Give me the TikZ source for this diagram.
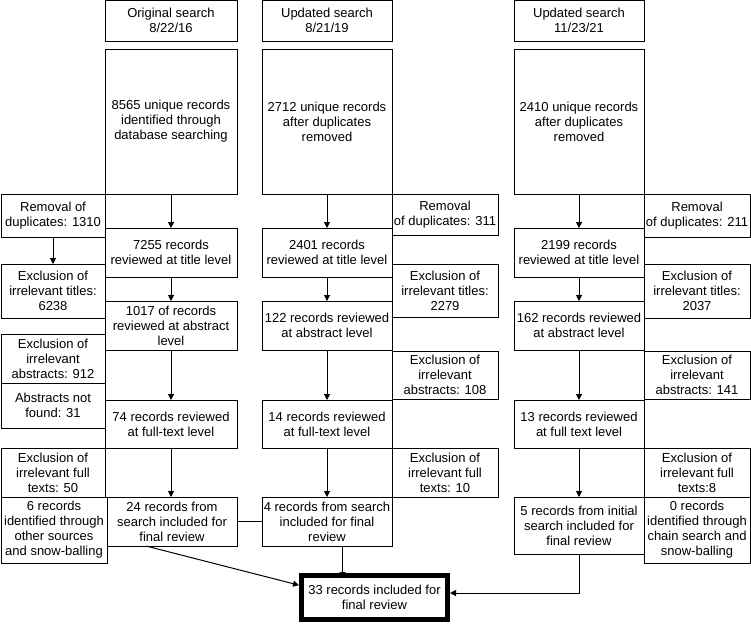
\documentclass[tikz,border=0pt]{standalone}
\usepackage{fontspec}
\setmainfont{Liberation Sans}
\usetikzlibrary{arrows.meta,calc}
\newcommand{\bx}[7][]{\node[box,#1,minimum width={#5-#3},minimum height={#6-#4}] (#2) at ({(#3+#5)/2},{(#4+#6)/2}) {#7};}
\begin{document}
\begin{tikzpicture}[x=1pt,y=-1pt,
  box/.style={draw, line width=1pt, inner sep=0pt, outer sep=0pt, align=center, font=\fontsize{13}{15}\selectfont},
  thickbox/.style={line width=5pt},
  arr/.style={-{Triangle[length=6pt,width=6pt]}, line width=1pt},
  ln/.style={line width=1pt}]
\useasboundingbox (0,0) rectangle (751,630);
% column 1
\bx{h1}{105}{0.5}{237}{41}{Original search\\8/22/16}
\bx{a1}{105}{49}{237}{194}{8565 unique records\\identified through\\database searching}
\bx{r1}{1}{194}{105}{237}{Removal of\\duplicates: 1310}
\bx{t1}{105}{228}{237}{277}{7255 records\\reviewed at title level}
\bx{et1}{1}{264}{105}{318}{Exclusion of\\irrelevant titles:\\6238}
\bx{b1}{105}{301}{237}{350}{1017 of records\\reviewed at abstract\\level}
\bx{ea1}{1}{334}{105}{383}{Exclusion of\\irrelevant\\abstracts: 912}
\bx{nf1}{1}{383}{105}{428}{Abstracts not\\found: 31}
\bx{f1}{105}{400}{237}{448}{74 records reviewed\\at full-text level}
\bx{ef1}{1}{448}{105}{497}{Exclusion of\\irrelevant full\\texts: 50}
\bx{s1}{1}{497}{107}{563}{6 records\\identified through\\other sources\\and snow-balling}
\bx{i1}{107}{497}{237}{546}{24 records from\\search included for\\final review}
% column 2
\bx{h2}{262}{0.5}{392}{41}{Updated search\\8/21/19}
\bx{a2}{262}{49}{392}{194}{2712 unique records\\after duplicates\\removed}
\bx{r2}{392}{194}{498}{235}{Removal\\of duplicates: 311}
\bx{t2}{262}{228}{392}{277}{2401 records\\reviewed at title level}
\bx{et2}{392}{264}{498}{317}{Exclusion of\\irrelevant titles:\\2279}
\bx{b2}{262}{301}{392}{350}{122 records reviewed\\at abstract level}
\bx{ea2}{392}{351}{498}{399}{Exclusion of\\irrelevant\\abstracts: 108}
\bx{f2}{262}{400}{392}{448}{14 records reviewed\\at full-text level}
\bx{ef2}{392}{448}{498}{497}{Exclusion of\\irrelevant full\\texts: 10}
\bx{i2}{262}{497}{392}{546}{4 records from search\\included for final\\review}
% column 3
\bx{h3}{514}{0.5}{644}{41}{Updated search\\11/23/21}
\bx{a3}{514}{49}{644}{194}{2410 unique records\\after duplicates\\removed}
\bx{r3}{644}{194}{750}{237}{Removal\\of duplicates: 211}
\bx{t3}{514}{228}{644}{277}{2199 records\\reviewed at title level}
\bx{et3}{644}{264}{750}{318}{Exclusion of\\irrelevant titles:\\2037}
\bx{b3}{514}{301}{644}{350}{162 records reviewed\\at abstract level}
\bx{ea3}{644}{351}{750}{399}{Exclusion of\\irrelevant\\abstracts: 141}
\bx{f3}{514}{400}{644}{448}{13 records reviewed\\at full text level}
\bx{ef3}{644}{448}{750}{497}{Exclusion of\\irrelevant full\\texts:8}
\bx{i3}{514}{497}{644}{554}{5 records from initial\\search included for\\final review}
\bx{s3}{644}{497}{750}{563}{0 records\\identified through\\chain search and\\snow-balling}
% final
\bx[thickbox]{final}{301.5}{575.5}{447.5}{619.5}{33 records included for\\final review}
% connectors
\draw[arr] (a1.south) -- (t1.north);
\draw[arr] (r1.south) -- (et1.north);
\draw[arr] (t1.south) -- (b1.north);
\draw[arr] (b1.south) -- (f1.north);
\draw[arr] (f1.south) -- (f1.south |- i1.north);
\draw[arr] (a2.south) -- (t2.north);
\draw[arr] (t2.south) -- (b2.north);
\draw[arr] (b2.south) -- (f2.north);
\draw[arr] (f2.south) -- (i2.north);
\draw[arr] (a3.south) -- (t3.north);
\draw[arr] (t3.south) -- (b3.north);
\draw[arr] (b3.south) -- (f3.north);
\draw[arr] (f3.south) -- (i3.north);
\draw[ln] (i1.east) -- (i2.west);
\coordinate (p1) at ($(i1.south west)!0.3!(i1.south east)$);
\coordinate (q1) at ($(final.north west)!0.22!(final.south west)$);
\draw[arr] (p1) -- ([xshift=-2.5pt]q1);
\coordinate (p2) at ($(i2.south west)!0.62!(i2.south east)$);
\draw[arr] (p2) -- ([yshift=-2.5pt]p2 |- final.north);
\draw[arr] (i3.south) |- ([xshift=2.5pt,yshift=4.5pt]final.east);
\end{tikzpicture}
\end{document}
